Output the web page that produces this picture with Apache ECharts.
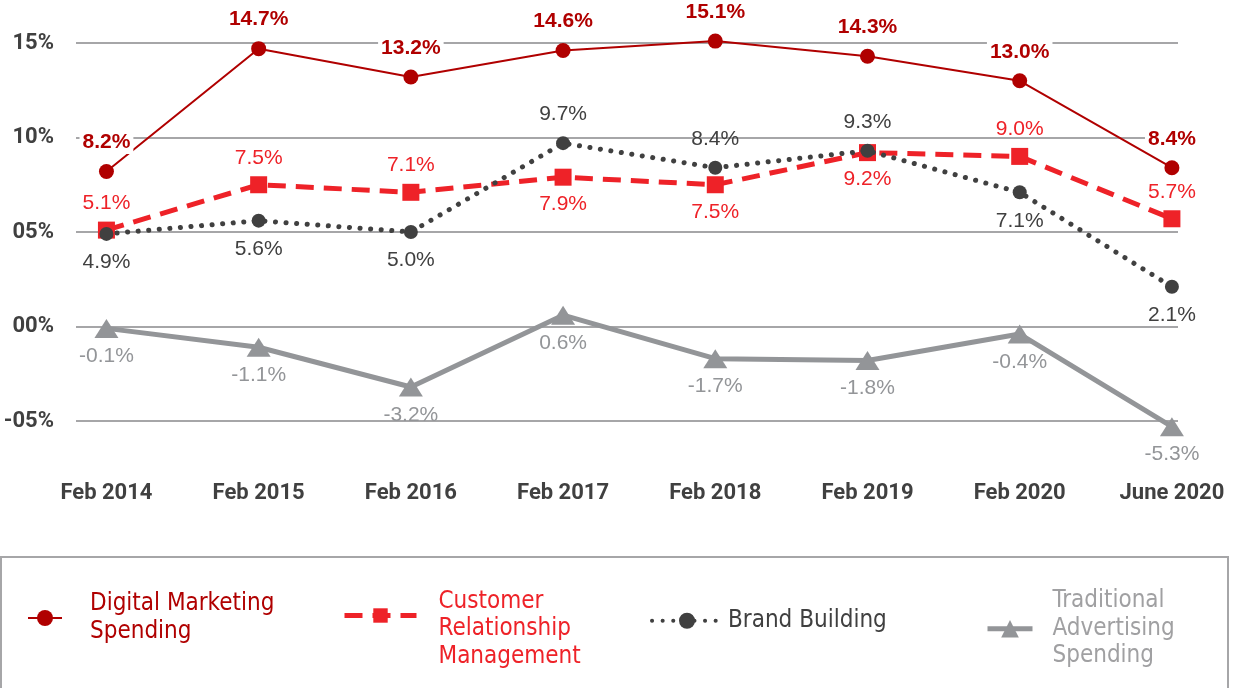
<!DOCTYPE html>
<html>
<head>
<meta charset="utf-8">
<script src="https://cdn.jsdelivr.net/npm/echarts@6/dist/echarts.min.js"></script>
<style>
  html, body { margin: 0; padding: 0; background: #fff; }
  #chart { width: 1246px; height: 688px; }
</style>
</head>
<body>
<div id="chart"></div>
<script>
// Year-over-year change in marketing spend, by category (percent)
const periods = ['Feb 2014', 'Feb 2015', 'Feb 2016', 'Feb 2017', 'Feb 2018', 'Feb 2019', 'Feb 2020', 'June 2020'];
const digitalMarketing = [8.2, 14.7, 13.2, 14.6, 15.1, 14.3, 13.0, 8.4];
const customerRelationship = [5.1, 7.5, 7.1, 7.9, 7.5, 9.2, 9.0, 5.7];
const brandBuilding = [4.9, 5.6, 5.0, 9.7, 8.4, 9.3, 7.1, 2.1];
const traditionalAdvertising = [-0.1, -1.1, -3.2, 0.6, -1.7, -1.8, -0.4, -5.3];
const yTicks = [-5, 0, 5, 10, 15];

// Which side of each point its value label sits on
const crmLabelSide = ['top', 'top', 'top', 'bottom', 'bottom', 'bottom', 'top', 'top'];
const brandLabelSide = ['bottom', 'bottom', 'bottom', 'top', 'top', 'top', 'bottom', 'bottom'];

const AXIS_FONT = "Roboto, 'Liberation Sans', sans-serif";
const LEGEND_FONT = "'DejaVu Sans Condensed', 'Liberation Sans Narrow', sans-serif";
const SANS = "'Liberation Sans', Arial, sans-serif";

const C_DIGITAL = '#B00000';
const C_CRM = '#EE2228';
const C_BRAND = '#404040';
const C_TRAD = '#939598';

function pct(v) { return v.toFixed(1) + '%'; }

function points(values, sides) {
  return values.map((v, i) => {
    const item = { value: [i, v] };
    if (sides) item.label = { position: sides[i] };
    return item;
  });
}

function valueLabel(color, position, extra) {
  return Object.assign({
    show: true,
    position: position,
    distance: 8,
    color: color,
    fontFamily: SANS,
    fontWeight: 'normal',
    fontSize: 21,
    formatter: p => pct(p.value[1])
  }, extra || {});
}

const chart = echarts.init(document.getElementById('chart'), null, { renderer: 'canvas' });

const legendText = (color, padLeft) => ({
  color: color, fontFamily: LEGEND_FONT, fontSize: 24, lineHeight: 27.5, padding: [0, 0, 0, padLeft]
});

chart.setOption({
  animation: false,
  backgroundColor: '#ffffff',
  grid: { left: 76, right: 68, top: 43, height: 378, containLabel: false, outerBoundsMode: 'none' },
  xAxis: {
    type: 'value',
    min: -0.2,
    max: 7.04,
    axisLine: { show: false },
    axisTick: { show: false },
    splitLine: { show: false },
    axisLabel: {
      customValues: periods.map((_, i) => i),
      formatter: v => periods[Math.round(v)],
      margin: 61,
      color: C_BRAND,
      fontFamily: AXIS_FONT,
      fontWeight: 'bold',
      fontSize: 22
    }
  },
  yAxis: {
    type: 'value',
    min: -5,
    max: 15,
    interval: 5,
    axisLine: { show: false },
    axisTick: { show: false },
    splitLine: { show: true, lineStyle: { color: '#A6A6A8', width: 2 } },
    axisLabel: {
      customValues: yTicks,
      margin: 22,
      color: C_BRAND,
      fontFamily: AXIS_FONT,
      fontWeight: 'bold',
      fontSize: 22,
      formatter: v => (v < 0 ? '-' : '') + String(Math.abs(v)).padStart(2, '0') + '%'
    }
  },
  legend: [
    {
      left: 27, top: 590.5, padding: 0, itemWidth: 34, itemHeight: 20,
      lineStyle: { width: 2 },
      data: [{ name: 'Digital Marketing\nSpending', textStyle: legendText(C_DIGITAL, 23) }]
    },
    {
      // leading blank line keeps the marker level with the first two lines
      left: 342, top: 560.5, padding: 0, itemWidth: 72, itemHeight: 18,
      lineStyle: { width: 5 },
      formatter: name => '\n' + name,
      data: [{ name: 'Customer\nRelationship\nManagement', textStyle: legendText(C_CRM, 17) }]
    },
    {
      left: 650, top: 607, padding: 0, itemWidth: 70, itemHeight: 20,
      lineStyle: { width: 4 },
      data: [{ name: 'Brand Building', textStyle: legendText(C_BRAND, 1) }]
    },
    {
      left: 985, top: 587.5, padding: 0, itemWidth: 45, itemHeight: 22,
      lineStyle: { width: 5 },
      data: [{ name: 'Traditional\nAdvertising\nSpending', textStyle: legendText('#A0A0A2', 15) }]
    }
  ],
  graphic: [
    {
      type: 'rect',
      silent: true,
      shape: { x: 1, y: 557, width: 1227, height: 160 },
      style: { fill: 'none', stroke: '#A6A6A8', lineWidth: 2 }
    }
  ],
  series: [
    {
      name: 'Traditional\nAdvertising\nSpending',
      type: 'line',
      clip: false,
      data: points(traditionalAdvertising),
      symbol: 'triangle',
      symbolSize: [24, 19],
      lineStyle: { color: C_TRAD, width: 5 },
      itemStyle: { color: C_TRAD },
      label: valueLabel(C_TRAD, 'bottom', { distance: 8 }),
      z: 2
    },
    {
      name: 'Customer\nRelationship\nManagement',
      type: 'line',
      clip: false,
      data: points(customerRelationship, crmLabelSide),
      symbol: 'rect',
      symbolSize: 17,
      lineStyle: { color: C_CRM, width: 5, type: [18, 10] },
      itemStyle: { color: C_CRM },
      label: valueLabel(C_CRM, 'top', { distance: 8 }),
      z: 3
    },
    {
      name: 'Brand Building',
      type: 'line',
      clip: false,
      data: points(brandBuilding, brandLabelSide),
      symbol: 'circle',
      symbolSize: 14,
      lineStyle: { color: C_BRAND, width: 5, type: [0.1, 10.5], cap: 'round' },
      itemStyle: { color: C_BRAND },
      label: valueLabel(C_BRAND, 'bottom', { distance: 11 }),
      z: 4
    },
    {
      name: 'Digital Marketing\nSpending',
      type: 'line',
      clip: false,
      data: points(digitalMarketing),
      symbol: 'circle',
      symbolSize: 15,
      lineStyle: { color: C_DIGITAL, width: 2 },
      itemStyle: { color: C_DIGITAL },
      label: valueLabel(C_DIGITAL, 'top', { fontWeight: 'bold', backgroundColor: '#ffffff', padding: [1, 3], distance: 10 }),
      z: 5
    }
  ]
});
</script>
</body>
</html>
